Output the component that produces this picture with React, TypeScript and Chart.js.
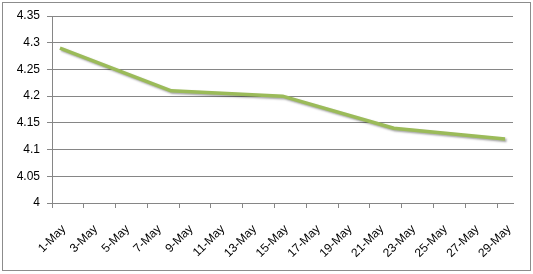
import React, { useEffect, useRef } from "react";
import { Chart, registerables } from "chart.js";

Chart.register(...registerables);

const days: string[] = Array.from({ length: 29 }, (_, i) => `${i + 1}-May`);
const dataDates: string[] = ["1-May", "8-May", "15-May", "22-May", "29-May"];
const dataValues: number[] = [4.29, 4.21, 4.2, 4.14, 4.12];
const yTickValues: number[] = [4, 4.05, 4.1, 4.15, 4.2, 4.25, 4.3, 4.35];
const yTickLabels: string[] = ["4", "4.05", "4.1", "4.15", "4.2", "4.25", "4.3", "4.35"];

const FONT = { family: "'Liberation Sans', Arial, sans-serif", size: 12 };
const GRID = "#868686";

const shadowPlugin = {
  id: "lineShadow",
  beforeDatasetDraw(chart: any) {
    const ctx = chart.ctx;
    ctx.save();
    ctx.shadowColor = "rgba(0,0,0,0.35)";
    ctx.shadowBlur = 2;
    ctx.shadowOffsetX = 1.5;
    ctx.shadowOffsetY = 1.5;
  },
  afterDatasetDraw(chart: any) {
    chart.ctx.restore();
  },
};

const borderPlugin = {
  id: "outerBorder",
  afterDraw(chart: any) {
    const ctx = chart.ctx;
    ctx.save();
    ctx.strokeStyle = "#8c8c8c";
    ctx.lineWidth = 1;
    ctx.strokeRect(2.5, 2.5, 528, 268);
    ctx.restore();
  },
};

export default function App() {
  const ref = useRef<HTMLCanvasElement>(null);
  useEffect(() => {
    if (!ref.current) return;
    const chart = new Chart(ref.current, {
      type: "line",
      data: {
        labels: days,
        datasets: [
          {
            data: dataDates.map((d, i) => ({ x: d, y: dataValues[i] })),
            borderColor: "#9BBB59",
            borderWidth: 3.5,
            pointRadius: 0,
            tension: 0,
            borderJoinStyle: "round",
            borderCapStyle: "butt",
          },
        ],
      },
      options: {
        responsive: false,
        animation: false,
        devicePixelRatio: 1,
        layout: { padding: { top: 16, right: 20, left: 0, bottom: 0 } },
        plugins: { legend: { display: false }, tooltip: { enabled: false } },
        scales: {
          x: {
            type: "category",
            offset: true,
            border: { display: true, color: GRID },
            grid: {
              offset: true,
              drawOnChartArea: false,
              drawTicks: true,
              tickLength: 5,
              color: (c: any) => (c.index !== undefined && c.index % 2 === 0 ? GRID : "rgba(0,0,0,0)"),
            },
            ticks: {
              autoSkip: false,
              maxRotation: 45,
              minRotation: 45,
              color: "#000",
              font: FONT,
              padding: 14,
              labelOffset: 4,
              callback: (_v: any, i: number) => (i % 2 === 0 ? days[i] : ""),
            },
            afterFit: (s: any) => {
              s.height = 274 - 203 - 0;
            },
          },
          y: {
            min: 4,
            max: 4.35,
            border: { display: true, color: GRID },
            grid: { color: GRID, tickLength: 5 },
            afterBuildTicks: (s: any) => {
              s.ticks = yTickValues.map((v) => ({ value: v }));
            },
            ticks: {
              color: "#000",
              font: FONT,
              padding: 7,
              callback: (_v: any, i: number) => yTickLabels[i],
            },
            afterFit: (s: any) => {
              s.width = 52;
            },
          },
        },
      },
      plugins: [shadowPlugin, borderPlugin],
    } as any);
    return () => chart.destroy();
  }, []);
  return (
    <div style={{ position: "fixed", left: 0, top: 0, width: 533, height: 274, background: "#fff" }}>
      <canvas ref={ref} width={533} height={274} style={{ display: "block" }} />
    </div>
  );
}
